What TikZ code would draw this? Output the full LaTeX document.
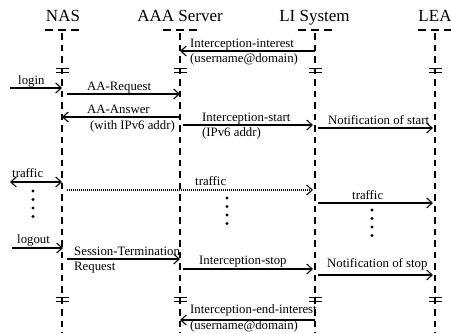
\documentclass[tikz,border=0pt]{standalone}
\usepackage{fontspec}
\setmainfont{Liberation Serif}
\usetikzlibrary{arrows.meta,calc}
\begin{document}
\begin{tikzpicture}[x=1pt,y=-1pt,
  lifeline/.style={line width=1.1pt, dash pattern=on 6.5pt off 5pt},
  headbar/.style={line width=1.1pt, dash pattern=on 8.5pt off 4.5pt},
  msg/.style={line width=1.1pt, -{Straight Barb[length=5.5pt,width=10pt]}},
  twoway/.style={line width=1.1pt, {Straight Barb[length=5.5pt,width=10pt]}-{Straight Barb[length=5.5pt,width=10pt]}},
  dotline/.style={msg, dash pattern=on 1pt off 1pt},
  head/.style={font=\fontsize{17}{20}\selectfont, inner sep=0pt, anchor=base},
  lbl/.style={font=\fontsize{12.8}{15}\selectfont, inner sep=0pt, anchor=base west},
  brk/.style={line width=1.1pt},
  dot/.style={circle, fill, inner sep=0pt, minimum size=3.4pt}
]
\useasboundingbox (0,0) rectangle (451,333);

% participants
\node[head] (hNAS) at (63,21) {NAS};
\node[head] (hAAA) at (180,21) {AAA Server};
\node[head] (hLI)  at (314.5,21) {LI System};
\node[head] (hLEA) at (435,21) {LEA};

% lifelines, header bars and break marks
\foreach \n/\x in {nas/62,aaa/180,li/315,lea/435}{
  \coordinate (\n) at (\x,33);
  \coordinate (\n-end) at (\x,333);
  \draw[lifeline] (\n) -- (\n-end);
  \draw[headbar] (\x-17.5,30) -- (\x+17.5,30);
  \draw[brk] (\x-6.5,68.5) -- (\x+6.5,68.5) (\x-6.5,72.5) -- (\x+6.5,72.5);
  \draw[brk] (\x-6.5,297.5) -- (\x+6.5,297.5) (\x-6.5,301.5) -- (\x+6.5,301.5);
}

% free ends of the user-side arrows
\coordinate (loginStart) at (10,88);
\coordinate (trafficStart) at (10,182);
\coordinate (logoutStart) at (12,248);

% messages
\draw[msg] (li |- 0,51) -- (aaa |- 0,51);
\node[lbl] (tIntI1) at (190,47) {Interception-interest};
\node[lbl] (tIntI2) at (190,62.5) {(username@domain)};

\draw[msg] (loginStart) -- (nas |- 0,88);
\node[lbl] (tLogin) at (18,84.5) {login};

\draw[msg] ($(nas |- 0,94)+(5,0)$) -- (aaa |- 0,94);
\node[lbl] (tAAReq) at (87,90.5) {AA-Request};

\draw[msg] (aaa |- 0,117) -- (nas |- 0,117);
\node[lbl] (tAAAns1) at (87,113.5) {AA-Answer};
\node[lbl] (tAAAns2) at (90,129.5) {(with IPv6 addr)};

\draw[msg] ($(aaa |- 0,125)+(3,0)$) -- ($(li |- 0,125)+(-2,0)$);
\node[lbl] (tIntS1) at (202,121.5) {Interception-start};
\node[lbl] (tIntS2) at (202,136.5) {(IPv6 addr)};

\draw[msg] ($(li |- 0,128)+(3,0)$) -- ($(lea |- 0,128)+(-2,0)$);
\node[lbl] (tNotS) at (328,124) {Notification of start};

\draw[twoway] (trafficStart) -- (nas |- 0,182);
\node[lbl] (tTr1) at (12,177.5) {traffic};

\draw[dotline] ($(nas |- 0,190)+(5,0)$) -- ($(li |- 0,190)+(-2,0)$);
\node[lbl] (tTr2) at (195,185.5) {traffic};

\draw[msg] ($(li |- 0,203)+(3,0)$) -- ($(lea |- 0,203)+(-2,0)$);
\node[lbl] (tTr3) at (352,199) {traffic};

% continuation dots
\foreach \i/\y in {1/191,2/199.5,3/208,4/216.5}
  \node[dot] (dA\i) at (33,\y) {};
\foreach \i/\y in {1/198,2/206.5,3/215,4/223.5}
  \node[dot] (dB\i) at (227,\y) {};
\foreach \i/\y in {1/210,2/218.5,3/227,4/235.5}
  \node[dot] (dC\i) at (372,\y) {};

\draw[msg] (logoutStart) -- ($(nas |- 0,248)+(1,0)$);
\node[lbl] (tLogout) at (17,243.5) {logout};

\draw[msg] ($(nas |- 0,259)+(5,0)$) -- (aaa |- 0,259);
\node[lbl] (tSess1) at (74,255) {Session-Termination};
\node[lbl] (tSess2) at (74,270.5) {Request};

\draw[msg] ($(aaa |- 0,269)+(3,0)$) -- ($(li |- 0,269)+(-2,0)$);
\node[lbl] (tIntStop) at (199,264.5) {Interception-stop};

\draw[msg] ($(li |- 0,275)+(3,0)$) -- ($(lea |- 0,275)+(-2,0)$);
\node[lbl] (tNotStop) at (327,267) {Notification of stop};

\draw[msg] (li |- 0,320) -- (aaa |- 0,320);
\node[lbl] (tEnd1) at (190,313) {Interception-end-interest};
\node[lbl] (tEnd2) at (190,329) {(username@domain)};
\end{tikzpicture}
\end{document}
